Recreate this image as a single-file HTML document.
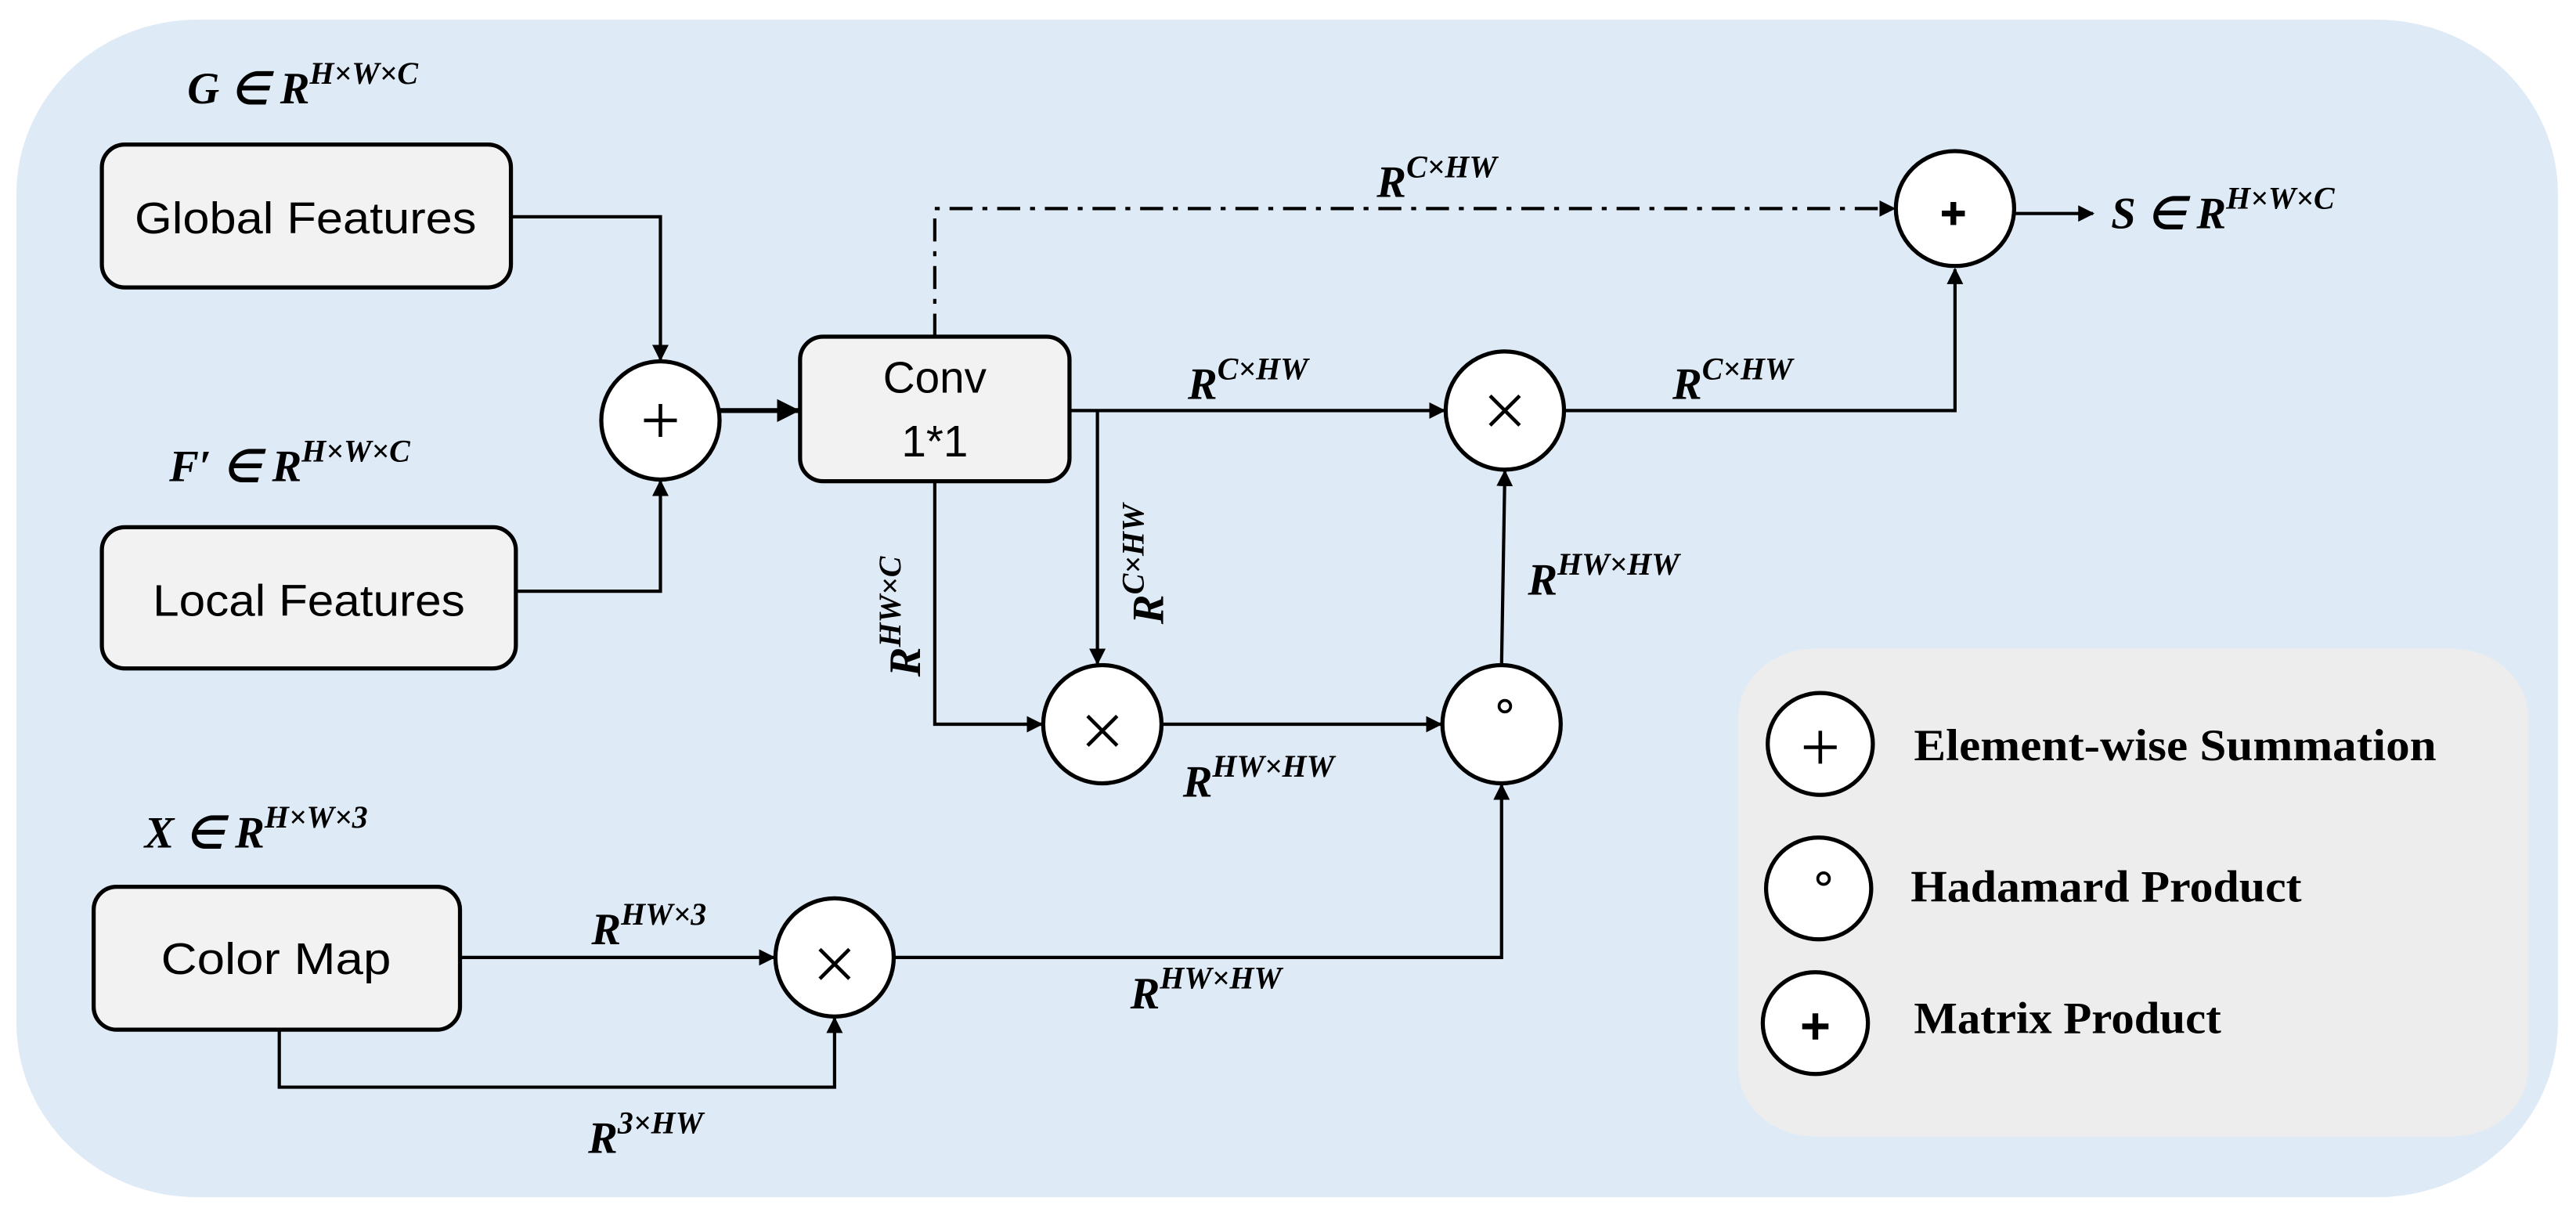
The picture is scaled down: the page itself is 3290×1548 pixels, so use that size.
<!DOCTYPE html>
<html><head><meta charset="utf-8"><style>
html,body{margin:0;padding:0;background:#fff}
svg{display:block}
.sans{font-family:"Liberation Sans",sans-serif}
.m{font-family:"Liberation Serif",serif;font-weight:bold;font-style:italic}
.lg{font-family:"Liberation Serif",serif;font-weight:bold}
</style></head><body>
<svg width="3290" height="1548" viewBox="0 0 1568 738" preserveAspectRatio="none" xmlns="http://www.w3.org/2000/svg">
<defs>
<marker id="a" markerWidth="10" markerHeight="10" refX="9" refY="5" orient="auto" markerUnits="userSpaceOnUse" viewBox="0 0 10 10">
<path d="M0,0 L10,5 L0,10 z" fill="#000"/></marker>
<marker id="b" markerWidth="14" markerHeight="14" refX="13" refY="7" orient="auto" markerUnits="userSpaceOnUse" viewBox="0 0 14 14">
<path d="M0,0 L14,7 L0,14 z" fill="#000"/></marker>
</defs>
<rect x="0" y="0" width="1568" height="738" fill="#fff"/>
<rect x="10" y="12" width="1547" height="717" rx="110" ry="106" fill="#deeaf6"/>
<rect x="1058" y="395" width="481" height="297" rx="46" ry="42" fill="#ededed"/>

<g fill="#f2f2f2" stroke="#000" stroke-width="2.5">
<rect x="62" y="88" width="249" height="87" rx="14"/>
<rect x="62" y="321" width="252" height="86" rx="14"/>
<rect x="487" y="205" width="164" height="88" rx="14"/>
<rect x="57" y="540" width="223" height="87" rx="14"/>
</g>
<g class="sans" font-size="27" text-anchor="middle" fill="#000">
<text x="186" y="142" textLength="208" lengthAdjust="spacingAndGlyphs">Global Features</text>
<text x="188" y="375" textLength="190" lengthAdjust="spacingAndGlyphs">Local Features</text>
<text x="569" y="239">Conv</text>
<text x="569" y="278">1*1</text>
<text x="168" y="593" textLength="140" lengthAdjust="spacingAndGlyphs">Color Map</text>
</g>

<g stroke="#000" stroke-width="2" fill="none">
<polyline points="311,132 402,132 402,219" marker-end="url(#a)"/>
<polyline points="314,360 402,360 402,293" marker-end="url(#a)"/>
<line x1="438" y1="250" x2="486" y2="250" stroke-width="3" marker-end="url(#b)"/>
<polyline points="569,205 569,127 1153,127" stroke-dasharray="14,6,3,6" marker-end="url(#a)"/>
<line x1="1227" y1="130" x2="1274" y2="130" marker-end="url(#a)"/>
<line x1="651" y1="250" x2="879" y2="250" marker-end="url(#a)"/>
<polyline points="668,250 668,404"  marker-end="url(#a)"/>
<polyline points="569,293 569,441 634,441" marker-end="url(#a)"/>
<line x1="707" y1="441" x2="877" y2="441" marker-end="url(#a)"/>
<line x1="914" y1="405" x2="916" y2="287" marker-end="url(#a)"/>
<polyline points="952,250 1190,250 1190,164" marker-end="url(#a)"/>
<line x1="280" y1="583" x2="471" y2="583" marker-end="url(#a)"/>
<polyline points="170,627 170,662 508,662 508,620" marker-end="url(#a)"/>
<polyline points="544,583 914,583 914,478" marker-end="url(#a)"/>
</g>

<g fill="#fff" stroke="#000" stroke-width="2.5">
<ellipse cx="402" cy="256" rx="36" ry="36"/>
<ellipse cx="1190" cy="127" rx="36" ry="35"/>
<ellipse cx="916" cy="250" rx="36" ry="36"/>
<ellipse cx="671" cy="441" rx="36" ry="36"/>
<ellipse cx="914" cy="441" rx="36" ry="36"/>
<ellipse cx="508" cy="583" rx="36" ry="36"/>
<ellipse cx="1108" cy="453" rx="32" ry="31"/>
<ellipse cx="1107" cy="541" rx="32" ry="31"/>
<ellipse cx="1105" cy="623" rx="32" ry="31"/>
</g>
<g stroke="#000" fill="none">
<path d="M392,256 h20 M402,246 v20" stroke-width="2.2"/>
<path d="M1182,130 h14 M1189,123 v14" stroke-width="3.5"/>
<path d="M907,241 l18,18 M925,241 l-18,18" stroke-width="2.2"/>
<path d="M662,436 l18,18 M680,436 l-18,18" stroke-width="2.2"/>
<path d="M499,578 l18,18 M517,578 l-18,18" stroke-width="2.2"/>
<circle cx="916" cy="430" r="3.5" stroke-width="1.8"/>
<path d="M1098,455 h20 M1108,445 v20" stroke-width="2.2"/>
<circle cx="1110" cy="535" r="3.5" stroke-width="1.8"/>
<path d="M1097,625 h16 M1105,617 v16" stroke-width="3.5"/>
</g>

<g class="m" font-size="27" fill="#000">
<text x="114" y="63">G ∈ R<tspan font-size="19" dy="-12">H×W×C</tspan></text>
<text x="103" y="293">F′ ∈ R<tspan font-size="19" dy="-12">H×W×C</tspan></text>
<text x="88" y="516">X ∈ R<tspan font-size="19" dy="-12">H×W×3</tspan></text>
<text x="1285" y="139">S ∈ R<tspan font-size="19" dy="-12">H×W×C</tspan></text>
<text x="838" y="120">R<tspan font-size="19" dy="-12">C×HW</tspan></text>
<text x="723" y="243">R<tspan font-size="19" dy="-12">C×HW</tspan></text>
<text x="1018" y="243">R<tspan font-size="19" dy="-12">C×HW</tspan></text>
<text x="720" y="485">R<tspan font-size="19" dy="-12">HW×HW</tspan></text>
<text x="930" y="362">R<tspan font-size="19" dy="-12">HW×HW</tspan></text>
<text x="360" y="575">R<tspan font-size="19" dy="-12">HW×3</tspan></text>
<text x="688" y="614">R<tspan font-size="19" dy="-12">HW×HW</tspan></text>
<text x="358" y="702">R<tspan font-size="19" dy="-12">3×HW</tspan></text>
<text transform="translate(560,412) rotate(-90)">R<tspan font-size="19" dy="-12">HW×C</tspan></text>
<text transform="translate(708,380) rotate(-90)">R<tspan font-size="19" dy="-12">C×HW</tspan></text>
</g>

<g class="lg" font-size="27" fill="#000">
<text x="1165" y="463" textLength="318" lengthAdjust="spacingAndGlyphs">Element-wise Summation</text>
<text x="1163" y="549" textLength="238" lengthAdjust="spacingAndGlyphs">Hadamard Product</text>
<text x="1165" y="629" textLength="187" lengthAdjust="spacingAndGlyphs">Matrix Product</text>
</g>
</svg>
</body></html>
